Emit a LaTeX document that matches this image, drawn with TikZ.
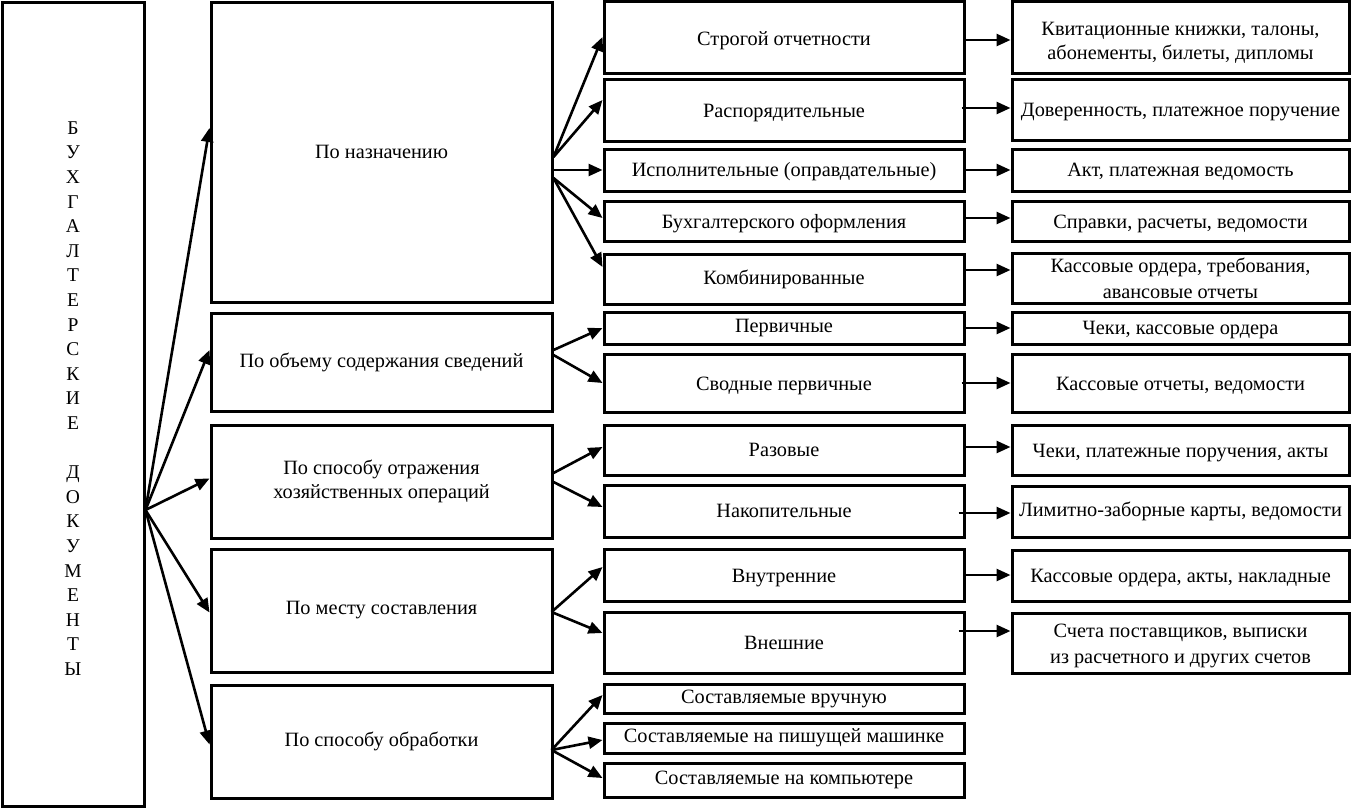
\documentclass[tikz,border=0pt]{standalone}
\usepackage{fontspec}
\setmainfont{Liberation Serif}
\usetikzlibrary{arrows.meta}
\newcommand\bx[6]{\node[box, minimum width={(#4-#2)*1pt}, minimum height={(#5-#3)*1pt}] (#1) at ({(#2+#4)/2},{(#3+#5)/2}) {#6};}
\newcommand\lowertext[2]{\raisebox{#1}[\height][\depth]{\begin{tabular}{@{}c@{}}#2\end{tabular}}}
\begin{document}
\begin{tikzpicture}[x=1pt,y=-1pt,
  box/.style={draw, line width=3pt, inner sep=0pt, align=center, font=\fontsize{20.3}{26}\selectfont},
  arr/.style={line width=2.6pt, -{Triangle[length=14pt,width=12pt]}}]
\useasboundingbox (0,0) rectangle (1351,811);
% left
\node[box, minimum width=142pt, minimum height=804pt, font=\fontsize{19.5}{24.6}\selectfont] (L) at (73,404) {\lowertext{4pt}{Б\\У\\Х\\Г\\А\\Л\\Т\\Е\\Р\\С\\К\\И\\Е\\ \\Д\\О\\К\\У\\М\\Е\\Н\\Т\\Ы}};
% categories
\bx{c1}{211}{2}{552}{302}{По назначению}
\bx{c2}{211}{313}{552}{411}{По объему содержания сведений}
\bx{c3}{211}{425}{552}{538}{По способу отражения\\[-1.5pt]хозяйственных операций}
\bx{c4}{211}{549}{552}{672}{По месту составления}
\bx{c5}{211}{685}{552}{798}{По способу обработки}
% column 3
\bx{s1}{604}{1}{964}{73}{\lowertext{-3pt}{Строгой отчетности}}
\bx{s2}{604}{79}{964}{141}{\lowertext{-2pt}{Распорядительные}}
\bx{s3}{604}{149}{964}{191}{\lowertext{-1.5pt}{Исполнительные (оправдательные)}}
\bx{s4}{604}{201}{964}{241}{\lowertext{-2pt}{Бухгалтерского оформления}}
\bx{s5}{604}{254}{964}{304}{Комбинированные}
\bx{p1}{604}{312}{964}{344}{Первичные}
\bx{p2}{604}{354}{964}{412}{\lowertext{-2pt}{Сводные первичные}}
\bx{r1}{604}{425}{964}{475}{Разовые}
\bx{r2}{604}{485}{964}{537}{Накопительные}
\bx{v1}{604}{549}{964}{601}{\lowertext{-2pt}{Внутренние}}
\bx{v2}{604}{612}{964}{673}{Внешние}
\bx{m1}{604}{684}{964}{713}{Составляемые вручную}
\bx{m2}{604}{723}{964}{753}{Составляемые на пишущей машинке}
\bx{m3}{604}{763}{964}{797}{Составляемые на компьютере}
% column 4
\bx{k1}{1012}{1}{1349}{73}{\lowertext{-5pt}{Квитационные книжки, талоны,\\[-2pt]абонементы, билеты, дипломы}}
\bx{k2}{1012}{79}{1349}{140}{\lowertext{-2pt}{Доверенность, платежное поручение}}
\bx{k3}{1012}{149}{1349}{191}{\lowertext{-1.5pt}{Акт, платежная ведомость}}
\bx{k4}{1012}{201}{1349}{241}{\lowertext{-2pt}{Справки, расчеты, ведомости}}
\bx{k5}{1012}{253}{1349}{303}{Кассовые ордера, требования,\\авансовые отчеты}
\bx{q1}{1012}{312}{1349}{344}{\lowertext{-1pt}{Чеки, кассовые ордера}}
\bx{q2}{1012}{354}{1349}{412}{\lowertext{-2pt}{Кассовые отчеты, ведомости}}
\bx{q3}{1012}{425}{1349}{475}{\lowertext{-2pt}{Чеки, платежные поручения, акты}}
\bx{q4}{1012}{486}{1349}{537}{Лимитно-заборные карты, ведомости}
\bx{q5}{1012}{550}{1349}{601}{\lowertext{-2pt}{Кассовые ордера, акты, накладные}}
\bx{q6}{1012}{613}{1349}{673}{\lowertext{-2pt}{Счета поставщиков, выписки\\из расчетного и других счетов}}
% main fan
\coordinate (f0) at ([yshift=-106pt]L.east);
\draw[arr] (f0) -- ([yshift=24pt]c1.west);
\draw[arr] (f0) -- ([yshift=12pt]c2.west);
\draw[arr] (f0) -- ([yshift=3pt]c3.west);
\draw[arr] (f0) -- ([yshift=-2pt]c4.west);
\draw[arr] (f0) -- ([yshift=-3pt]c5.west);
% fan c1
\coordinate (o1a) at ([yshift=-5pt]c1.east);
\coordinate (o1b) at ([yshift=-18pt]c1.east);
\coordinate (o1c) at ([yshift=-26pt]c1.east);
\draw[arr] (o1a) -- (s1.west);
\draw[arr] (o1a) -- ([yshift=10pt]s2.west);
\draw[arr] (o1b) -- (s3.west);
\draw[arr] (o1c) -- ([yshift=3pt]s4.west);
\draw[arr] (o1c) -- ([yshift=12pt]s5.west);
% fan c2
\coordinate (o2a) at ([yshift=12pt]c2.east);
\coordinate (o2b) at ([yshift=7pt]c2.east);
\draw[arr] (o2a) -- (p1.west);
\draw[arr] (o2b) -- (p2.west);
% fan c3
\coordinate (o3a) at ([yshift=8.5pt]c3.east);
\coordinate (o3b) at ([yshift=-0.5pt]c3.east);
\draw[arr] (o3a) -- ([yshift=3pt]r1.west);
\draw[arr] (o3b) -- ([yshift=4pt]r2.west);
% fan c4
\coordinate (o4) at ([xshift=-2pt,yshift=-1.5pt]c4.east);
\draw[arr] (o4) -- ([yshift=8pt]v1.west);
\draw[arr] (o4) -- ([yshift=9.5pt]v2.west);
% fan c5
\coordinate (o5) at ([xshift=-2pt,yshift=-8.5pt]c5.east);
\draw[arr] (o5) -- ([yshift=3.5pt]m1.west);
\draw[arr] (o5) -- ([yshift=-2pt]m2.west);
\draw[arr] (o5) -- ([yshift=2pt]m3.west);
% right arrows
\draw[arr] ([yshift=-3pt]s1.east) -- ([yshift=-3pt]k1.west);
\draw[arr] ([xshift=-4pt,yshift=2pt]s2.east) -- ([yshift=1.5pt]k2.west);
\draw[arr] (s3.east) -- (k3.west);
\draw[arr] ([yshift=3pt]s4.east) -- ([yshift=3pt]k4.west);
\draw[arr] ([yshift=9pt]s5.east) -- ([yshift=8pt]k5.west);
\draw[arr] (p1.east) -- (q1.west);
\draw[arr] ([xshift=-4pt]p2.east) -- (q2.west);
\draw[arr] ([yshift=3pt]r1.east) -- ([yshift=3pt]q3.west);
\draw[arr] ([xshift=-7pt,yshift=-2pt]r2.east) -- ([yshift=-1.5pt]q4.west);
\draw[arr] (v1.east) -- ([yshift=0.5pt]q5.west);
\draw[arr] ([xshift=-7pt,yshift=11.5pt]v2.east) -- ([yshift=12pt]q6.west);
\end{tikzpicture}
\end{document}
